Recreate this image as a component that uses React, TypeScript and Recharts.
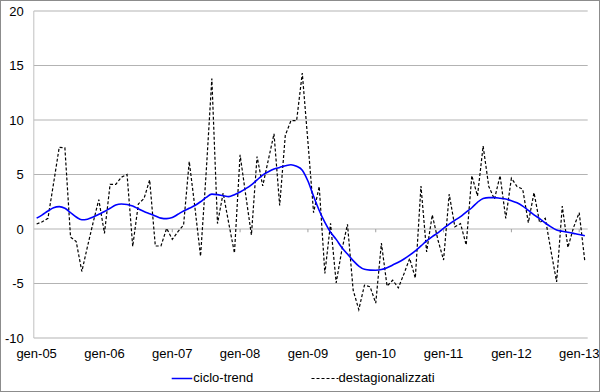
import {
  LineChart,
  Line,
  XAxis,
  YAxis,
  CartesianGrid,
  Legend,
  ReferenceLine,
} from "recharts";

const FONT = '"Liberation Sans", Arial, sans-serif';

const monthNames = ["gen", "feb", "mar", "apr", "mag", "giu", "lug", "ago", "set", "ott", "nov", "dic"];
const years = ["05", "06", "07", "08", "09", "10", "11", "12", "13"];
const months = years.flatMap((y) => monthNames.map((m) => `${m}-${y}`)).slice(0, 98);
const yearLabels = years.map((y) => `gen-${y}`);
const yTicks = [-10, -5, 0, 5, 10, 15, 20];

// ciclo-trend (blue, smooth)
const cicloTrend = [
  1.0, 1.3, 1.65, 1.95, 2.05, 1.9, 1.5, 1.1, 0.85, 0.9, 1.1, 1.35,
  1.6, 1.9, 2.2, 2.3, 2.25, 2.1, 1.85, 1.6, 1.4, 1.2, 1.0, 0.95,
  1.05, 1.35, 1.65, 1.9, 2.15, 2.5, 2.9, 3.2, 3.15, 3.05, 2.97, 3.15,
  3.4, 3.7, 4.05, 4.5, 4.95, 5.25, 5.5, 5.65, 5.8, 5.9, 5.75, 5.4,
  4.4, 3.0, 1.7, 0.6, -0.3, -0.95, -1.7, -2.3, -2.9, -3.4, -3.7, -3.77,
  -3.78, -3.72, -3.55, -3.3, -3.05, -2.75, -2.4, -2.0, -1.55, -1.1, -0.7, -0.35,
  0.05, 0.45, 0.8, 1.13, 1.55, 1.95, 2.45, 2.8, 2.88, 2.88, 2.82, 2.75,
  2.6, 2.4, 2.1, 1.7, 1.3, 0.95, 0.55, 0.2, -0.1, -0.2, -0.3, -0.4,
  -0.5, -0.62,
];

// destagionalizzati (dashed)
const destagionalizzati = [
  0.46, 0.67, 0.98, 4.2, 7.5, 7.45, -0.75, -1.15, -3.9, -1.6, 0.6, 2.7,
  -0.4, 4.1, 4.1, 4.75, 5.0, -1.6, 2.3, 2.8, 4.5, -1.56, -1.56, 0.06,
  -0.95, -0.25, 0.37, 6.2, 2.0, -2.5, 5.2, 13.8, 0.5, 3.3, 0.5, -2.2,
  6.8, 3.1, -0.55, 6.65, 3.95, 6.35, 8.74, 2.15, 8.6, 9.94, 9.94, 14.3,
  8.0, 1.5, 3.9, -4.08, 0.52, -4.94, -1.93, 0.43, -5.6, -7.4, -5.15, -5.3,
  -6.8, -1.3, -5.24, -4.7, -5.4, -4.1, -2.7, -4.5, 3.95, -2.1, 1.29, -1.0,
  -2.85, 3.2, 0.2, 0.5, -1.47, 4.9, 3.03, 7.6, 3.9, 2.73, 4.9, 0.98,
  4.66, 3.9, 3.65, 0.58, 3.34, 0.58, 0.98, -2.0, -4.85, 2.1, -1.7, 0.15,
  1.5, -3.0,
];

const data = months.map((m, i) => ({
  month: m,
  trend: cicloTrend[i],
  dest: destagionalizzati[i],
}));

function LegendBox() {
  return (
    <div style={{ position: "relative", width: 598, height: 16, fontFamily: FONT, fontSize: 13, color: "#000" }}>
      <svg width={598} height={16} style={{ position: "absolute", left: 0, top: 0 }}>
        <line x1={170.7} x2={191.3} y1={8.5} y2={8.5} stroke="#0000ff" strokeWidth={1.5} />
        <line x1={310.5} x2={337.5} y1={8.5} y2={8.5} stroke="#000" strokeWidth={1.1} strokeDasharray="3 2" />
      </svg>
      <span style={{ position: "absolute", left: 192.3, top: 0, lineHeight: "16px" }}>ciclo-trend</span>
      <span style={{ position: "absolute", left: 337.5, top: 0, lineHeight: "16px" }}>destagionalizzati</span>
    </div>
  );
}

export default function App() {
  return (
    <div
      style={{
        position: "absolute",
        left: 0,
        top: 0,
        width: 600,
        height: 392,
        boxSizing: "border-box",
        border: "1px solid #8c8c8c",
        background: "#fff",
        fontFamily: FONT,
      }}
    >
      <LineChart width={598} height={390} data={data} margin={{ top: 10, right: 11.3, bottom: 5.3, left: 0 }}>
        <CartesianGrid vertical={false} stroke="#b3b3b3" />
        <XAxis
          dataKey="month"
          interval={11}
          axisLine={false}
          tickLine={false}
          tickSize={0}
          tickMargin={11}
          height={31.7}
          padding={{ left: 2.83, right: 2.83 }}
          tick={{ fill: "#000", fontSize: 13, fontFamily: FONT }}
        />
        <YAxis
          domain={[-10, 20]}
          ticks={yTicks}
          width={32.8}
          tickLine={false}
          tickSize={0}
          tickMargin={10}
          axisLine={{ stroke: "#c0c0c0" }}
          tick={{ fill: "#000", fontSize: 13, fontFamily: FONT }}
        />
        <YAxis
          yAxisId="frame"
          orientation="right"
          domain={[-10, 20]}
          width={0}
          tick={false}
          tickLine={false}
          axisLine={{ stroke: "#b3b3b3" }}
        />
        {yearLabels.slice(1).map((lab) => (
          <ReferenceLine
            key={lab}
            segment={[
              { x: lab, y: 0 },
              { x: lab, y: -0.3 },
            ]}
            stroke="#a0a0a0"
          />
        ))}
        <Legend verticalAlign="bottom" wrapperStyle={{ left: 0, width: 598, height: 16 }} content={() => <LegendBox />} />
        <Line
          type="linear"
          dataKey="dest"
          name="destagionalizzati"
          stroke="#000"
          strokeWidth={1.2}
          strokeDasharray="3 2"
          dot={false}
          isAnimationActive={false}
        />
        <Line
          type="monotone"
          dataKey="trend"
          name="ciclo-trend"
          stroke="#0000ff"
          strokeWidth={1.6}
          dot={false}
          isAnimationActive={false}
        />
      </LineChart>
    </div>
  );
}
